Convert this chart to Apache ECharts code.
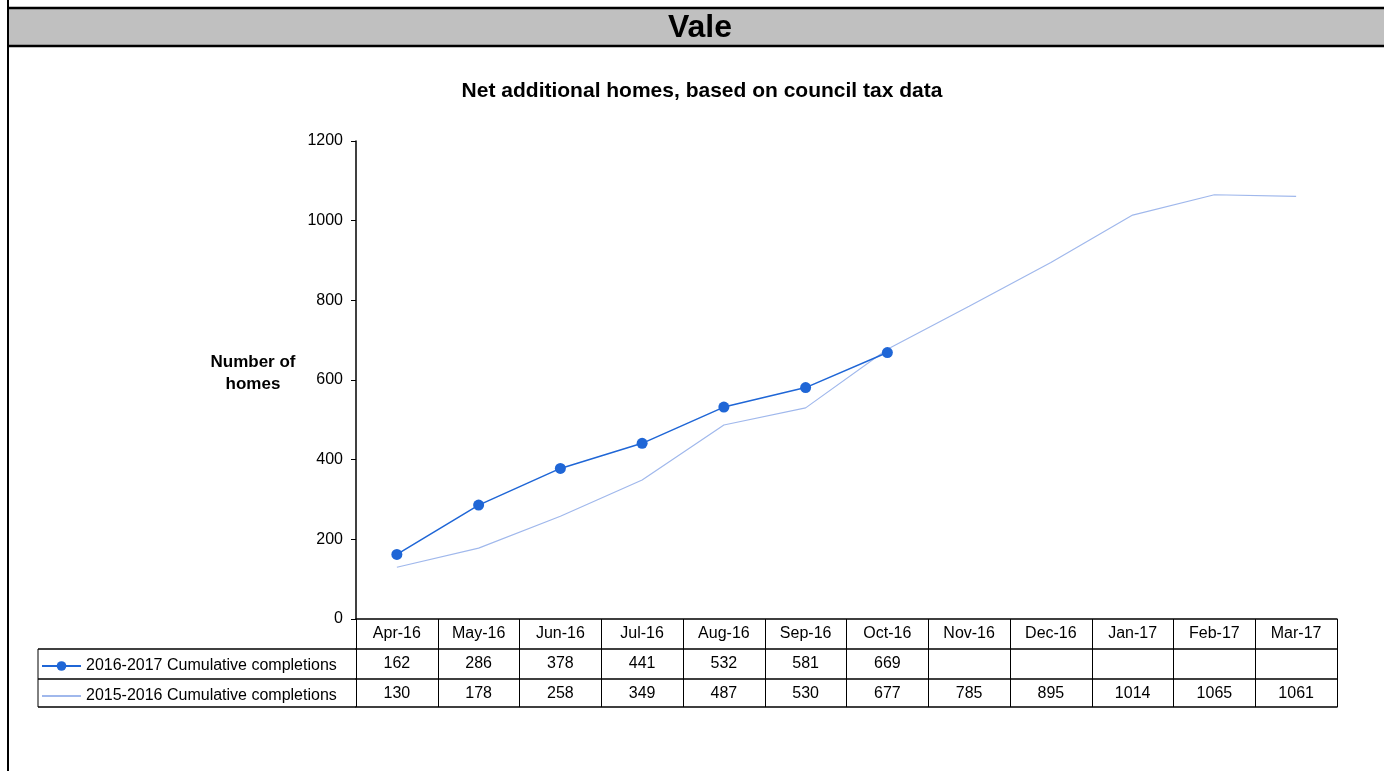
<!DOCTYPE html>
<html>
<head>
<meta charset="utf-8">
<script src="https://cdn.jsdelivr.net/npm/echarts@6/dist/echarts.min.js"></script>
<style>
html,body{margin:0;padding:0;background:#fff;}
#chart{width:1384px;height:771px;}
</style>
</head>
<body>
<div id="chart"></div>
<script>
var categories = ['Apr-16','May-16','Jun-16','Jul-16','Aug-16','Sep-16','Oct-16','Nov-16','Dec-16','Jan-17','Feb-17','Mar-17'];
var s2016 = [162, 286, 378, 441, 532, 581, 669, null, null, null, null, null];
var s2015 = [130, 178, 258, 349, 487, 530, 677, 785, 895, 1014, 1065, 1061];
var yTicks = [0, 200, 400, 600, 800, 1000, 1200];
var name2016 = '2016-2017 Cumulative completions';
var name2015 = '2015-2016 Cumulative completions';

var FONT = '"Liberation Sans", Arial, sans-serif';
var chart = echarts.init(document.getElementById('chart'), null, {renderer: 'canvas'});

function tableAxis(offset, values, showLabel, tickLen) {
  return {
    type: 'category',
    data: categories,
    gridIndex: 0,
    position: 'bottom',
    offset: offset,
    boundaryGap: true,
    axisLine: {show: true, lineStyle: {color: '#000', width: 1.5}},
    axisTick: {show: tickLen > 0, interval: 0, length: tickLen, lineStyle: {color: '#000', width: 1}},
    axisLabel: {
      show: showLabel, interval: 0, margin: 7, color: '#000', fontSize: 16, fontFamily: FONT,
      formatter: function (v, i) { var x = values ? values[i] : v; return (x === null || x === undefined) ? '' : String(x); }
    },
    splitLine: {show: false}
  };
}

var option = {
  backgroundColor: '#fff',
  animation: false,
  textStyle: {fontFamily: FONT},
  title: {
    text: 'Net additional homes, based on council tax data',
    left: 697, top: 76, textAlign: 'center',
    textStyle: {fontSize: 21, fontWeight: 'bold', color: '#000', fontFamily: FONT}
  },
  legend: {
    orient: 'vertical',
    left: 36, top: 652,
    itemGap: 12,
    itemWidth: 39, itemHeight: 12,
    textStyle: {fontSize: 16, color: '#000', fontFamily: FONT, lineHeight: 18},
    data: [
      {name: name2016},
      {name: name2015, itemStyle: {color: 'rgba(0,0,0,0)', borderColor: 'rgba(0,0,0,0)', borderWidth: 0}}
    ]
  },
  grid: {left: 356, right: 47, top: 141, bottom: 152, containLabel: false},
  xAxis: [
    tableAxis(0, null, true, 30),
    tableAxis(30, s2016, true, 30),
    tableAxis(60, s2015, true, 28),
    tableAxis(88, null, false, 0)
  ],
  yAxis: {
    type: 'value',
    min: 0, max: 1200, interval: 200,
    name: '{a|Number of}\n{a|homes}\n{b|}',
    nameLocation: 'middle',
    nameRotate: 0,
    nameGap: 103,
    nameTextStyle: {
      align: 'center', verticalAlign: 'middle', fontFamily: FONT,
      rich: {
        a: {fontSize: 17, fontWeight: 'bold', color: '#000', lineHeight: 22, align: 'center', fontFamily: FONT},
        b: {fontSize: 10, lineHeight: 14, height: 14}
      }
    },
    axisLine: {show: true, lineStyle: {color: '#000', width: 1.5}},
    axisTick: {show: true, length: 5, lineStyle: {color: '#000'}},
    axisLabel: {margin: 13, color: '#000', fontSize: 16, fontFamily: FONT,
      formatter: function (v) { return yTicks.indexOf(v) >= 0 ? String(v) : ''; }},
    splitLine: {show: false}
  },
  series: [
    {
      name: name2016, type: 'line', xAxisIndex: 0, data: s2016,
      symbol: 'circle', symbolSize: 11, showSymbol: true,
      itemStyle: {color: '#1f66d6'},
      lineStyle: {color: '#1f66d6', width: 1.5},
      connectNulls: false, z: 3
    },
    {
      name: name2015, type: 'line', xAxisIndex: 0, data: s2015,
      symbol: 'none', showSymbol: false,
      itemStyle: {color: '#a0b8ec'},
      lineStyle: {color: '#a0b8ec', width: 1.2}, z: 2
    }
  ],
  graphic: [
    {type: 'rect', shape: {x: 8, y: 8, width: 1376, height: 38}, style: {fill: '#c0c0c0'}, z: -1},
    {type: 'line', shape: {x1: 8, y1: 8, x2: 1384, y2: 8}, style: {stroke: '#000', lineWidth: 2.5}},
    {type: 'line', shape: {x1: 8, y1: 46, x2: 1384, y2: 46}, style: {stroke: '#000', lineWidth: 2.5}},
    {type: 'line', shape: {x1: 8, y1: 0, x2: 8, y2: 771}, style: {stroke: '#000', lineWidth: 2}},
    {type: 'text', x: 700, y: 28, style: {text: 'Vale', fontSize: 32, fontWeight: 'bold', fill: '#000', textAlign: 'center', textVerticalAlign: 'middle', fontFamily: FONT}},
    {type: 'line', shape: {x1: 38, y1: 649, x2: 356, y2: 649}, style: {stroke: '#000', lineWidth: 1.5}},
    {type: 'line', shape: {x1: 38, y1: 679, x2: 356, y2: 679}, style: {stroke: '#000', lineWidth: 1.5}},
    {type: 'line', shape: {x1: 38, y1: 707, x2: 356, y2: 707}, style: {stroke: '#000', lineWidth: 1.5}},
    {type: 'line', shape: {x1: 38, y1: 649, x2: 38, y2: 707}, style: {stroke: '#000', lineWidth: 1}}
  ]
};
chart.setOption(option);
</script>
</body>
</html>
